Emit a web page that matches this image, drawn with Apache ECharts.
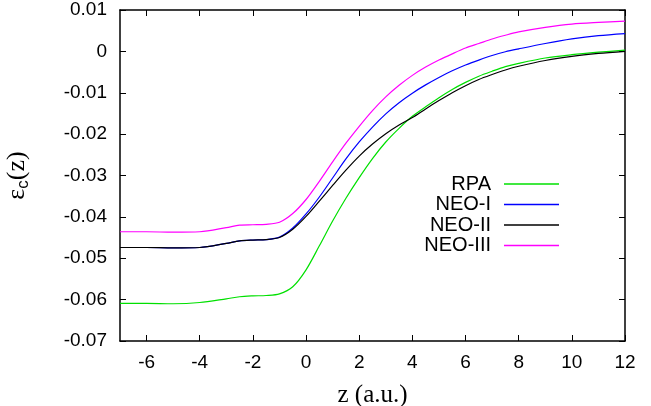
<!DOCTYPE html>
<html>
<head>
<meta charset="utf-8">
<script src="https://cdn.jsdelivr.net/npm/echarts@6/dist/echarts.min.js"></script>
<style>
  html, body { margin: 0; padding: 0; background: #fff; }
  #chart { width: 651px; height: 406px; }
</style>
</head>
<body>
<div id="chart"></div>
<script>
// z positions (a.u.)
var zVals = [-7, -6, -5, -4,
  -3, -2.5, -2, -1.5, -1, -0.5, 0, 0.5, 1, 1.5, 2, 2.5, 3, 3.5, 4, 4.5, 5, 5.5, 6, 6.5, 7, 7.5, 8,
  9, 10, 11, 12];

// eps_c(z) for each method
var rpa  = [-0.0609, -0.0609, -0.0610, -0.0607,
  -0.0598, -0.0593, -0.0591, -0.0590, -0.0586, -0.0569, -0.0528, -0.0470, -0.0410, -0.0355, -0.0305, -0.0259, -0.0219, -0.0186, -0.0157, -0.0134, -0.0112, -0.0092, -0.0075, -0.0060, -0.0048, -0.0037, -0.0029,
  -0.0016, -0.0008, -0.0002, 0.0003];
var neo1 = [-0.0474, -0.0474, -0.0475, -0.0474,
  -0.0464, -0.0458, -0.0456, -0.0455, -0.0449, -0.0427, -0.0393, -0.0352, -0.0306, -0.0260, -0.0219, -0.0183, -0.0151, -0.0124, -0.0101, -0.0081, -0.0063, -0.0047, -0.0033, -0.0021, -0.0010, -0.0001, 0.0006,
  0.0019, 0.0030, 0.0038, 0.0043];
var neo2 = [-0.0474, -0.0474, -0.0475, -0.0474,
  -0.0464, -0.0458, -0.0456, -0.0455, -0.0450, -0.0430, -0.0399, -0.0362, -0.0324, -0.0287, -0.0253, -0.0224, -0.0199, -0.0178, -0.0160, -0.0139, -0.0119, -0.0100, -0.0083, -0.0068, -0.0056, -0.0045, -0.0036,
  -0.0022, -0.0012, -0.0005, 0.0000];
var neo3 = [-0.0436, -0.0436, -0.0437, -0.0436,
  -0.0426, -0.0420, -0.0419, -0.0418, -0.0413, -0.0392, -0.0358, -0.0314, -0.0267, -0.0222, -0.0181, -0.0143, -0.0110, -0.0082, -0.0058, -0.0038, -0.0021, -0.0006, 0.0008, 0.0019, 0.0030, 0.0039, 0.0047,
  0.0058, 0.0066, 0.0070, 0.0073];

var seriesNames = ['RPA', 'NEO-I', 'NEO-II', 'NEO-III'];
var seriesColors = ['#00e000', '#0000ff', '#000000', '#ff00ff'];
var seriesData = [rpa, neo1, neo2, neo3];

var xTicks = [-6, -4, -2, 0, 2, 4, 6, 8, 10, 12];
var yTicks = [-0.07, -0.06, -0.05, -0.04, -0.03, -0.02, -0.01, 0, 0.01];

var chart = echarts.init(document.getElementById('chart'));

function pairs(arr) {
  return zVals.map(function (z, i) { return [z, arr[i]]; });
}

var font = 'Liberation Sans, Arial, Helvetica, sans-serif';
var serif = 'Liberation Serif, Times New Roman, serif';

var axisLine = { show: true, onZero: false, lineStyle: { color: '#000', width: 1.5 } };

// one legend per row so the line samples line up on the right
var legendRows = [185, 205.5, 226, 246.5];
var legends = seriesNames.map(function (n, i) {
  return {
    data: [{ name: n, icon: 'rect' }],
    right: 92,
    top: legendRows[i] - 11,
    padding: 0,
    align: 'right',
    itemWidth: 55,
    itemHeight: 1.5,
    selectedMode: false,
    textStyle: { fontFamily: font, fontSize: 20, color: '#000', padding: [0, 8, 0, 0] }
  };
});

var option = {
  animation: false,
  backgroundColor: '#fff',
  grid: { left: 120, right: 26, top: 10, bottom: 65, outerBoundsMode: 'none', containLabel: false },
  legend: legends,
  xAxis: [
    {
      type: 'value', min: -7, max: 12, position: 'bottom',
      name: 'z (a.u.)', nameLocation: 'middle', nameGap: 42,
      nameTextStyle: { fontFamily: serif, fontSize: 25, color: '#000' },
      axisLine: axisLine,
      axisTick: { inside: true, length: 6, customValues: xTicks, lineStyle: { color: '#000' } },
      axisLabel: { customValues: xTicks, fontFamily: font, fontSize: 19, color: '#000', margin: 12 },
      splitLine: { show: false }
    },
    {
      type: 'value', min: -7, max: 12, position: 'top',
      axisLine: axisLine,
      axisTick: { inside: true, length: 6, customValues: xTicks, lineStyle: { color: '#000' } },
      axisLabel: { show: false },
      splitLine: { show: false }
    }
  ],
  yAxis: [
    {
      type: 'value', min: -0.07, max: 0.01, position: 'left',
      name: '{e|ε}{s|c}{e|(z)}', nameLocation: 'middle', nameGap: 88, nameRotate: 90,
      nameTextStyle: {
        color: '#000',
        rich: {
          e: { fontFamily: serif, fontSize: 26, color: '#000' },
          s: { fontFamily: font, fontSize: 17, color: '#000', padding: [12, 0, 0, 0] }
        }
      },
      axisLine: axisLine,
      axisTick: { inside: true, length: 6, customValues: yTicks, lineStyle: { color: '#000' } },
      axisLabel: {
        customValues: yTicks, fontFamily: font, fontSize: 19, color: '#000', margin: 13,
        formatter: function (v) { return String(+v.toFixed(2)); }
      },
      splitLine: { show: false }
    },
    {
      type: 'value', min: -0.07, max: 0.01, position: 'right',
      axisLine: axisLine,
      axisTick: { inside: true, length: 6, customValues: yTicks, lineStyle: { color: '#000' } },
      axisLabel: { show: false },
      splitLine: { show: false }
    }
  ],
  series: seriesNames.map(function (n, i) {
    return {
      name: n,
      type: 'line',
      xAxisIndex: 0,
      yAxisIndex: 0,
      data: pairs(seriesData[i]),
      smooth: 0.3,
      showSymbol: false,
      symbol: 'none',
      color: seriesColors[i],
      lineStyle: { color: seriesColors[i], width: 1.2 }
    };
  })
};

chart.setOption(option);
</script>
</body>
</html>
